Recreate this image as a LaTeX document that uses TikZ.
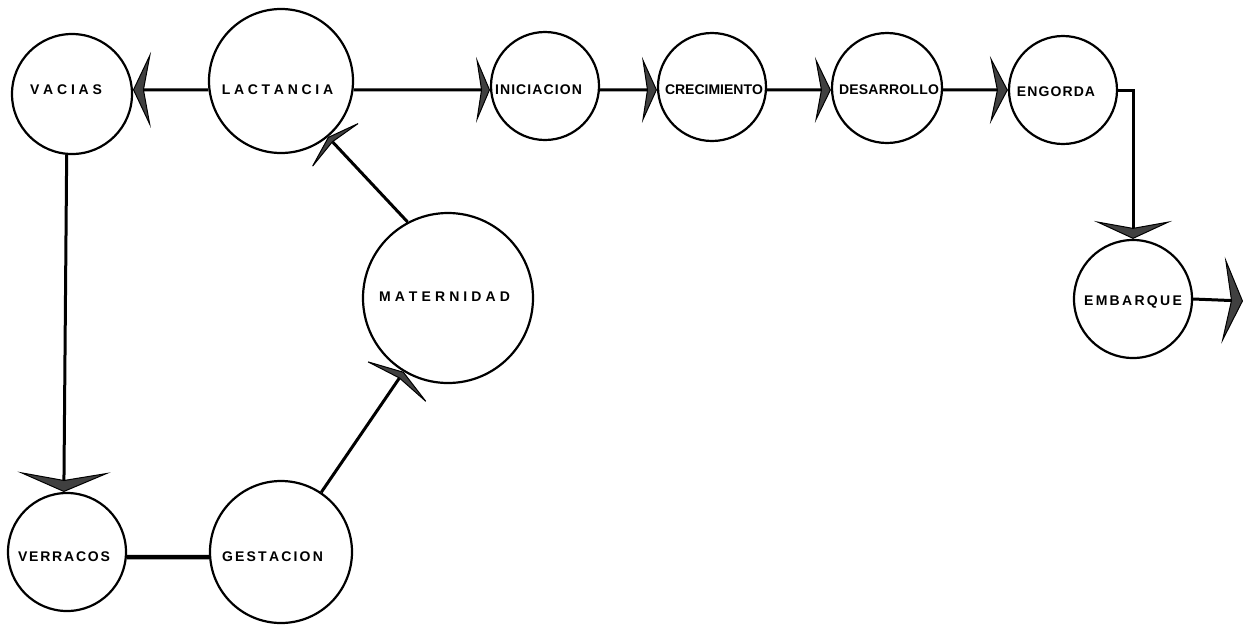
\documentclass[tikz,border=0pt]{standalone}
\usepackage{fontspec}
\newfontfamily\lblfont{Liberation Sans}
\usetikzlibrary{arrows.meta}
\makeatletter
\newcommand\trk[2]{\def\trk@sep{\kern#1pt\relax}\@tfor\trk@c:=#2\do{\trk@c\trk@sep}\unkern}
\makeatother
\begin{document}
\begin{tikzpicture}[x=1pt,y=-1pt,
  circ/.style={circle,draw,line width=2.2pt,inner sep=0pt,minimum size=#1pt},
  lbl/.style={inner sep=0pt,font=\lblfont\bfseries\fontsize{14}{14}\selectfont},
  arr/.style n args={3}{line width=3pt,-{Stealth[length=#1pt,width=#2pt,inset=#3pt,line width=1pt,fill=black!75]}}]
\useasboundingbox (0,0) rectangle (1243,625);
% circles
\node[circ=120] (vac) at (72,94) {};
\node[circ=144] (lact) at (281,81) {};
\node[circ=108] (inic) at (545,86) {};
\node[circ=108] (crec) at (712,87) {};
\node[circ=110] (desa) at (887,88) {};
\node[circ=108] (engo) at (1063,90) {};
\node[circ=118] (emb) at (1133,299) {};
\node[circ=170] (mat) at (448,298) {};
\node[circ=118] (verr) at (67,552) {};
\node[circ=142] (gest) at (281,552) {};
% labels
\node[lbl] (vacT) at (66,90) {\trk{3.8}{VACIAS}};
\node[lbl] (lactT) at (277.5,90) {\trk{3.7}{LACTANCIA}};
\node[lbl] (inicT) at (538.5,90) {\trk{1.1}{INICIACION}};
\node[lbl] (crecT) at (714,90) {\trk{0}{CRECIMIENTO}};
\node[lbl] (desaT) at (889,90) {\trk{0.2}{DESARROLLO}};
\node[lbl] (engoT) at (1056,92) {\trk{1.1}{ENGORDA}};
\node[lbl] (matT) at (444.5,297) {\trk{4.1}{MATERNIDAD}};
\node[lbl] (embT) at (1133,302) {\trk{2.3}{EMBARQUE}};
\node[lbl] (verrT) at (64,557) {\trk{1.8}{VERRACOS}};
\node[lbl] (gestT) at (272.5,557) {\trk{2.2}{GESTACION}};
\coordinate (out) at (1243,301);
% connectors
\draw[arr={18}{76}{7}] (lact.187) -- (vac.4);
\draw[arr={14}{66}{5}] (lact.-7) -- (inic.184);
\draw[arr={15}{66}{5}] (inic.-4) -- (crec.183);
\draw[arr={16}{66}{6}] (crec.-3) -- (desa.182);
\draw[arr={18}{68}{7}] (desa.-2) -- (engo.180);
\draw[arr={18}{78}{7}] (engo.east) -- (engo.east -| emb.north) -- (emb.north);
\draw[arr={20}{87}{8}] (emb.east) -- (out);
\draw[arr={20}{93}{8}] (vac.265) -- (verr.93);
\draw[line width=4.5pt] (verr.-5) -- (gest.184);
\draw[arr={13}{80}{5}] (gest.56) -- (mat.239);
\draw[arr={12}{73}{5}] (mat.118) -- (lact.310);
\end{tikzpicture}
\end{document}
